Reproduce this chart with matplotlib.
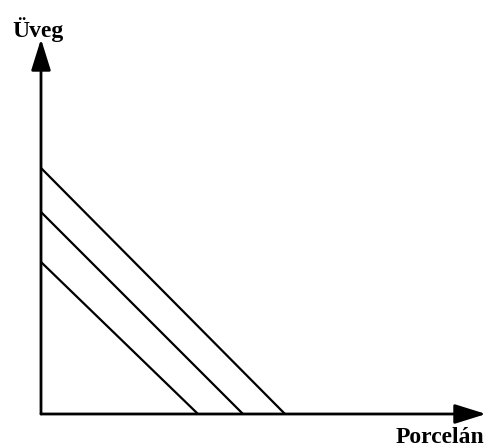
import matplotlib.pyplot as plt

# budget lines: (intercept on Porcelán axis, intercept on Üveg axis)
porcelan_max = [157, 202, 244]
uveg_max = [152, 202, 246]

x_label = "Porcelán"
y_label = "Üveg"

fig = plt.figure(figsize=(4.86, 4.48), dpi=100)
ax = fig.add_axes([0, 0, 1, 1])
ax.set_xlim(-41, 445)
ax.set_ylim(-34, 414)
ax.axis('off')

# axes with arrow heads
head = '-|>,head_length=0.8,head_width=0.25'
ax.annotate('', xy=(445, 0), xytext=(0, 0),
            arrowprops=dict(arrowstyle=head, lw=2.0, color='black',
                            mutation_scale=24, shrinkA=0, shrinkB=0))
ax.annotate('', xy=(0, 375), xytext=(0, 0),
            arrowprops=dict(arrowstyle=head, lw=2.0, color='black',
                            mutation_scale=24, shrinkA=0, shrinkB=0))

for px, uy in zip(porcelan_max, uveg_max):
    ax.plot([0, px], [uy, 0], color='black', lw=1.6, solid_capstyle='butt')

ax.text(-3, 384, y_label, ha='center', va='center', fontsize=17,
        fontweight='bold', family='Liberation Serif')
ax.text(399, -23, x_label, ha='center', va='center', fontsize=17,
        fontweight='bold', family='Liberation Serif')

plt.savefig('out.png', dpi=100)
